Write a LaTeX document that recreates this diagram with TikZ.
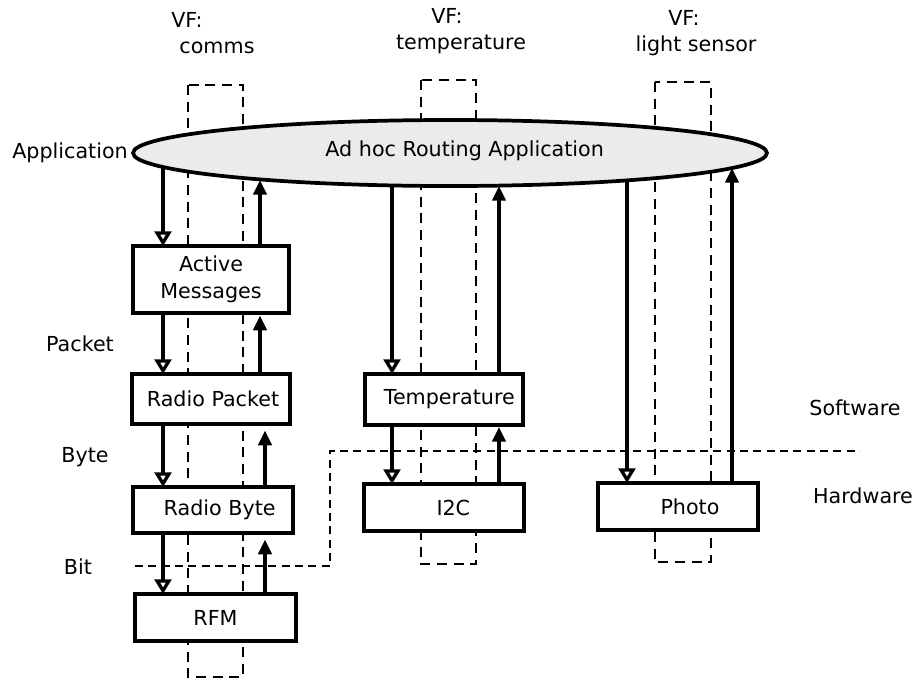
\documentclass[tikz,border=0pt]{standalone}
\usepackage{fontspec}
\setmainfont{DejaVu Sans}
\usepackage{tikz}
\usetikzlibrary{arrows.meta,calc,shapes.geometric}
\definecolor{appfill}{HTML}{EBEBEB}

\begin{document}
\begin{tikzpicture}[x=0.75pt, y=-0.75pt,
  txt/.style={font=\fontsize{15.5}{20}\selectfont, align=center, inner sep=0pt},
  app/.style={ellipse, draw, line width=2.8pt, fill=appfill, inner sep=0pt, outer sep=0pt,
              minimum width=475.5pt, minimum height=49.5pt, txt},
  layer/.style={rectangle, draw, line width=2.3pt, fill=white, inner sep=0pt, outer sep=0pt, txt},
  vfbox/.style={dashed, line width=1.8pt, dash pattern=on 7.5pt off 5pt},
  border/.style={dashed, line width=2pt, dash pattern=on 6pt off 4pt},
  dn/.style={-{Triangle[open, length=11pt, width=12.5pt]}, line width=2.5pt},
  upa/.style={-{Triangle[length=11pt, width=10pt]}, line width=2.5pt},
]
  \useasboundingbox (0,0) rectangle (914,679);

  % virtual functions
  \draw[vfbox] (188,85) rectangle (243,677);
  \draw[vfbox] (421,80) rectangle (476,564);
  \draw[vfbox] (655,82) rectangle (711,562);
  \node[txt] (vf1) at (217,33) {VF:\hspace*{45pt}\\comms};
  \node[txt] (vf2) at (461,31) {VF:\hspace*{21pt}\\temperature};
  \node[txt] (vf3) at (696,33) {VF:\hspace*{18pt}\\light sensor};

  % software / hardware boundary
  \draw[border] (135,566) -- (330,566) -- (330,451) -- (860,451);
  \node[txt] (sw) at (855,408) {Software};
  \node[txt] (hw) at (863,496) {Hardware};

  % levels
  \node[txt] (lapp) at (70,153) {Application};
  \node[txt] (lpkt) at (80,344) {Packet};
  \node[txt] (lbyte) at (85,457) {Byte};
  \node[txt] (lbit) at (78,567) {Bit};

  \node[app] (ahr) at (450,153) {\raisebox{7pt}{\hspace{22pt}Ad hoc Routing Application}};

  \node[layer, minimum width=117pt, minimum height=50.25pt] (am) at (211,279.5) {Active\\Messages};
  \node[layer, minimum width=118.5pt, minimum height=37.5pt] (rp) at (211,399) {\hspace{3pt}Radio Packet};
  \node[layer, minimum width=120pt, minimum height=34.5pt] (rb) at (213,510) {\hspace{10pt}Radio Byte};
  \node[layer, minimum width=120.75pt, minimum height=35.25pt] (rfm) at (215.5,617.5) {RFM};
  \node[layer, minimum width=118.5pt, minimum height=38.25pt] (temp) at (444,399.5) {\hspace{8pt}Temperature};
  \node[layer, minimum width=120pt, minimum height=35.25pt] (i2c) at (444,507.5) {\hspace{14pt}I2C};
  \node[layer, minimum width=120pt, minimum height=35.25pt] (photo) at (678,506.5) {\hspace{18pt}Photo};

  % arrow columns
  \coordinate (xa) at (163,0);
  \coordinate (xb) at (260,0);
  \coordinate (xb2) at (265,0);
  \coordinate (xc) at (392,0);
  \coordinate (xd) at (499,0);
  \coordinate (xe) at (627,0);
  \coordinate (xf) at (732,0);

  \draw[dn] ($(ahr.center)+(-287,15)$) -- (am.north -| xa);
  \draw[upa] (am.north -| xb) -- ($(ahr.center)+(-190,27)$);
  \draw[dn] (am.south -| xa) -- (rp.north -| xa);
  \draw[upa, shorten >=2pt] (rp.north -| xb) -- (am.south -| xb);
  \draw[dn] (rp.south -| xa) -- (rb.north -| xa);
  \draw[upa, shorten >=5pt] (rb.north -| xb2) -- (rp.south -| xb2);
  \draw[dn] (rb.south -| xa) -- (rfm.north -| xa);
  \draw[upa, shorten >=5pt] (rfm.north -| xb2) -- (rb.south -| xb2);

  \draw[dn] ($(ahr.center)+(-58,33)$) -- (temp.north -| xc);
  \draw[upa] (temp.north -| xd) -- ($(ahr.center)+(49,33)$);
  \draw[dn] (temp.south -| xc) -- (i2c.north -| xc);
  \draw[upa, shorten >=1.5pt] (i2c.north -| xd) -- (temp.south -| xd);

  \draw[dn] ($(ahr.center)+(177,28)$) -- (photo.north -| xe);
  \draw[upa] (photo.north -| xf) -- ($(ahr.center)+(282,15)$);
\end{tikzpicture}
\end{document}
